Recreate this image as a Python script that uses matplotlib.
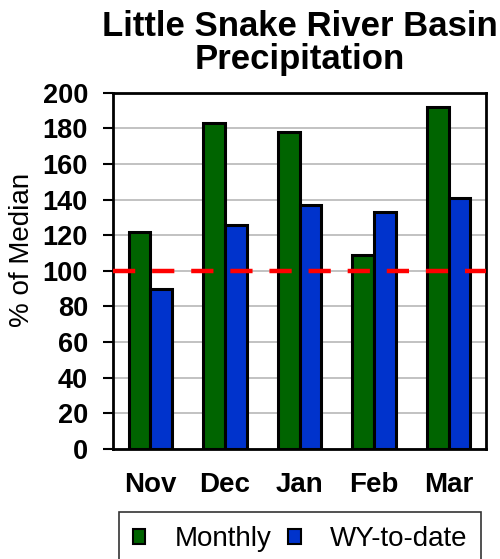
import numpy as np
import matplotlib.pyplot as plt

plt.rcParams['font.family'] = ['Liberation Sans', 'DejaVu Sans']

# Данные
months = ['Nov', 'Dec', 'Jan', 'Feb', 'Mar']
monthly = [122, 183, 178, 109, 192]
wy_to_date = [90, 126, 137, 133, 141]
median_line = 100

x = np.arange(len(months))
w = 0.29

fig = plt.figure(figsize=(5, 5.59), dpi=100)
ax = fig.add_axes([0.226, 0.197, 0.746, 0.637])

ax.bar(x - w / 2, monthly, w, color='#006400', edgecolor='black', linewidth=2.2,
       label='Monthly', zorder=3)
ax.bar(x + w / 2, wy_to_date, w, color='#0033cc', edgecolor='black', linewidth=2.2,
       label='WY-to-date', zorder=3)
ax.axhline(median_line, color='#ff0000', linewidth=3.2, dashes=(5.0, 3.8), zorder=4)

ax.set_xlim(-0.5, len(months) - 0.5)
ax.set_ylim(0, 200)
ax.set_yticks(np.arange(0, 201, 20))
ax.set_xticks(x)
ax.set_xticklabels(months, fontsize=20, fontweight='bold')
ax.tick_params(axis='x', length=0, pad=17)
ax.tick_params(axis='y', length=7, width=1.5, labelsize=19.5, pad=11)
for lab in ax.get_yticklabels():
    lab.set_fontweight('bold')
ax.grid(axis='y', color='#b8b8b8', linewidth=1.2, zorder=0)
for s in ax.spines.values():
    s.set_linewidth(2)

ax.set_ylabel('% of Median', fontsize=20)
ax.yaxis.set_label_coords(-0.21, 0.56)
ax.set_title('Little Snake River Basin\nPrecipitation', fontsize=25,
             fontweight='bold', pad=17, linespacing=1.0)

leg = ax.legend(loc='upper left', bbox_to_anchor=(0.238, 0.084),
                bbox_transform=fig.transFigure, ncol=2,
                fontsize=20, frameon=True, fancybox=False, edgecolor='black',
                handlelength=0.45, handleheight=0.45, handletextpad=1.05,
                columnspacing=0.6, borderpad=0.5, borderaxespad=0)
leg.get_frame().set_linewidth(1.2)
for h in leg.legend_handles:
    h.set_linewidth(1.5)

plt.savefig('out.png', dpi=100)
